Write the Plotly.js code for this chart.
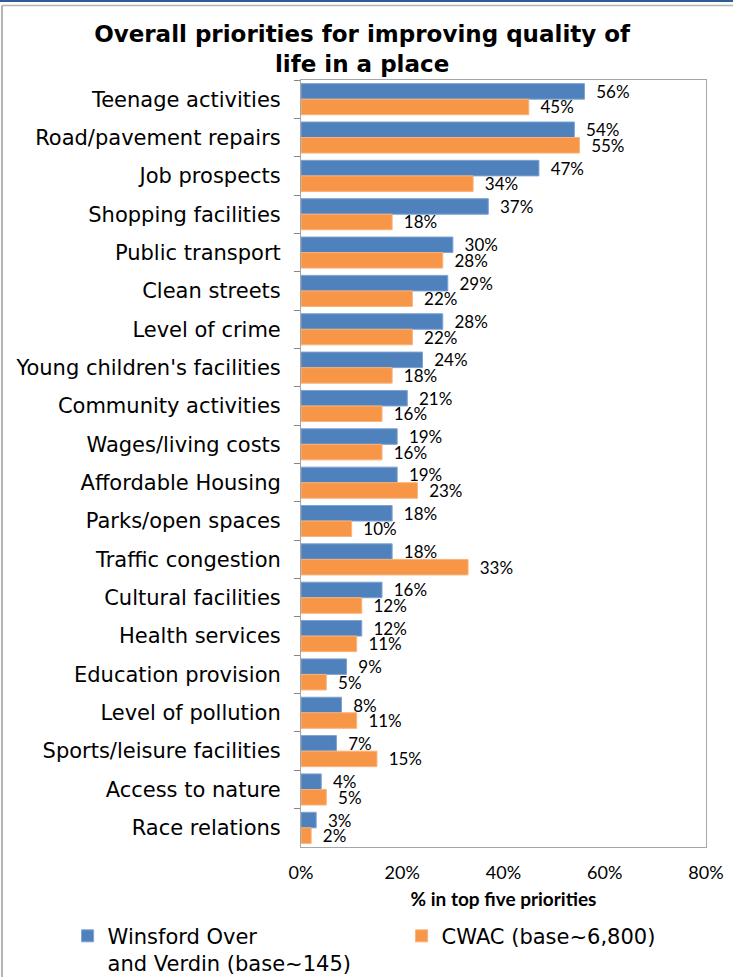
<!DOCTYPE html>
<html>
<head>
<meta charset="utf-8">
<script src="https://cdn.plot.ly/plotly-3.0.1.min.js"></script>
<style>
  html, body { margin: 0; padding: 0; background: #fff; }
  #chart { width: 733px; height: 977px; }
</style>
</head>
<body>
<div id="chart"></div>
<script>
const categories = [
  "Teenage activities",
  "Road/pavement repairs",
  "Job prospects",
  "Shopping facilities",
  "Public transport",
  "Clean streets",
  "Level of crime",
  "Young children's facilities",
  "Community activities",
  "Wages/living costs",
  "Affordable Housing",
  "Parks/open spaces",
  "Traffic congestion",
  "Cultural facilities",
  "Health services",
  "Education provision",
  "Level of pollution",
  "Sports/leisure facilities",
  "Access to nature",
  "Race relations"
];
const winsford = [56, 54, 47, 37, 30, 29, 28, 24, 21, 19, 19, 18, 18, 16, 12, 9, 8, 7, 4, 3];
const cwac     = [45, 55, 34, 18, 28, 22, 22, 18, 16, 16, 23, 10, 33, 12, 11, 5, 11, 15, 5, 2];
const seriesNames = ["Winsford Over<br>and Verdin (base~145)", "CWAC (base~6,800)"];
const xTickVals = [0, 20, 40, 60, 80];
const xTickText = ["0%", "20%", "40%", "60%", "80%"];

const labelFont = { family: "Lato, 'Liberation Sans', sans-serif", size: 17, color: "#000" };

const traces = [
  {
    type: "bar", orientation: "h", name: seriesNames[0],
    y: categories, x: winsford,
    marker: { color: "#4F81BD", line: { color: "#7EA3D3", width: 1 } },
    text: winsford.map(v => v + "%"),
    texttemplate: "\u00a0\u00a0%{text}",
    textposition: "outside", constraintext: "none", cliponaxis: false,
    textfont: labelFont, hoverinfo: "x+y"
  },
  {
    type: "bar", orientation: "h", name: seriesNames[1],
    y: categories, x: cwac,
    marker: { color: "#F79646", line: { color: "#F9B27A", width: 1 } },
    text: cwac.map(v => v + "%"),
    texttemplate: "\u00a0\u00a0%{text}",
    textposition: "outside", constraintext: "none", cliponaxis: false,
    textfont: labelFont, hoverinfo: "x+y"
  }
];

const layout = {
  width: 733, height: 977,
  margin: { l: 301, r: 27, t: 80, b: 130, pad: 0, autoexpand: false },
  paper_bgcolor: "#fff", plot_bgcolor: "#fff",
  barmode: "group", bargap: 0.19, bargroupgap: 0,
  showlegend: true,
  title: {
    text: "Overall priorities for improving quality of<br>life in a place",
    font: { family: "'DejaVu Sans', Verdana, sans-serif", size: 23, color: "#000", weight: "bold" },
    x: 0.494, xref: "container", xanchor: "center",
    y: 0.957, yref: "container", yanchor: "top"
  },
  xaxis: {
    range: [0, 80], tickvals: xTickVals, ticktext: xTickText,
    showgrid: false, zeroline: false,
    showline: true, mirror: true, linecolor: "#A6A6A6", linewidth: 1,
    ticks: "", ticklabelstandoff: 9,
    tickfont: { family: "Lato, 'Liberation Sans', sans-serif", size: 18, color: "#000" },
    title: {
      text: "% in top five priorities", standoff: 11,
      font: { family: "Lato, 'Liberation Sans', sans-serif", size: 19, color: "#000", weight: "bold" }
    },
    fixedrange: true
  },
  yaxis: {
    type: "category", autorange: "reversed",
    showgrid: false, zeroline: false,
    showline: true, mirror: true, linecolor: "#A6A6A6", linewidth: 1,
    ticks: "outside", tickson: "boundaries", ticklen: 6, tickcolor: "#868686", tickwidth: 1,
    ticklabelstandoff: 15,
    tickfont: { family: "'DejaVu Sans', Verdana, sans-serif", size: 21, color: "#000" },
    fixedrange: true
  },
  legend: {
    orientation: "h", x: -0.5763, xanchor: "left", y: -0.0896, yanchor: "top",
    valign: "top", entrywidth: 289, entrywidthmode: "pixels",
    font: { family: "'DejaVu Sans', Verdana, sans-serif", size: 21, color: "#000" },
    bgcolor: "rgba(0,0,0,0)", traceorder: "normal"
  },
  shapes: [
    { type: "line", xref: "paper", yref: "paper", x0: -0.75, x1: 1.07, y0: 1.1034, y1: 1.1034,
      line: { color: "#2E5D96", width: 2.5 } },
    { type: "line", xref: "paper", yref: "paper", x0: -0.7383, x1: 1.07, y0: 1.0971, y1: 1.0971,
      line: { color: "#B4B4B4", width: 1.5 } },
    { type: "line", xref: "paper", yref: "paper", x0: -0.7383, x1: -0.7383, y0: 1.0971, y1: -0.18,
      line: { color: "#B4B4B4", width: 2 } }
  ]
};

Plotly.newPlot("chart", traces, layout, { displayModeBar: false, staticPlot: false });
</script>
</body>
</html>
